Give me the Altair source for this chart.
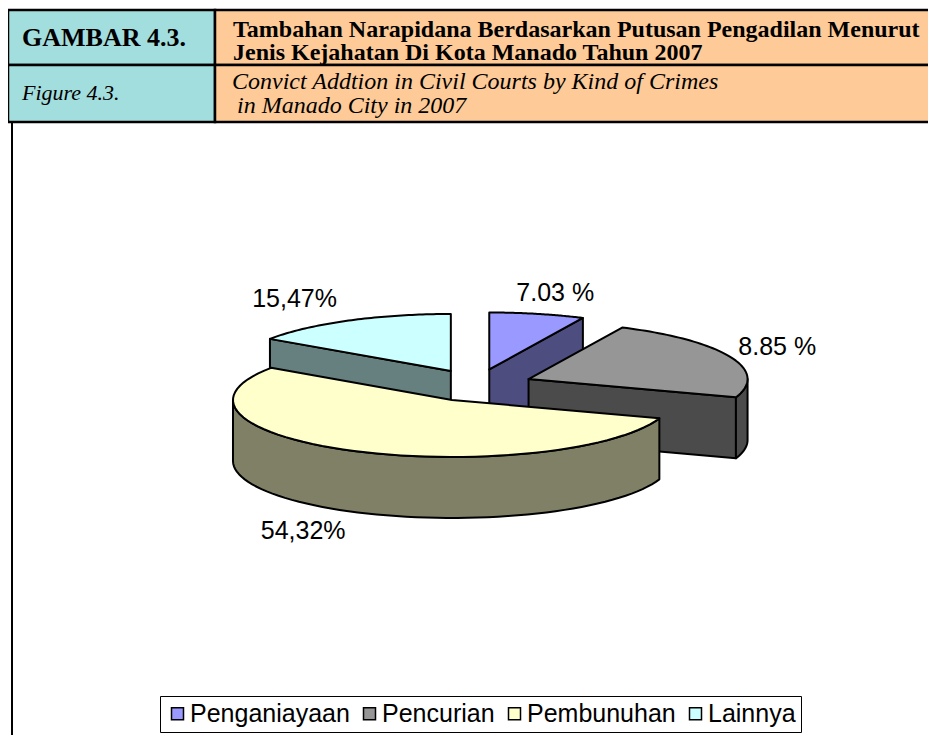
import math
import altair as alt
import pandas as pd

# ---------------- data ----------------
CATEGORIES = ["Penganiayaan", "Pencurian", "Pembunuhan", "Lainnya"]
# share of the circle each slice covers
SLICE_SHARE = [7.03, 23.18, 54.32, 15.47]
# data labels exactly as printed on the chart
LABELS = ["7.03 %", "8.85 %", "54,32%", "15,47%"]

TITLE_ID = "GAMBAR 4.3."
TITLE_ID_EN = "Figure 4.3."
TITLE_LINES = ["Tambahan Narapidana Berdasarkan Putusan Pengadilan Menurut",
               "Jenis Kejahatan Di Kota Manado Tahun 2007"]
TITLE_LINES_EN = ["Convict Addtion in Civil Courts by Kind of Crimes",
                  "in Manado City in 2007"]

# ---------------- style / layout ----------------
TOP_COLORS = ["#9999ff", "#969696", "#ffffcc", "#ccffff"]
SIDE_COLORS = ["#4d4d80", "#4b4b4b", "#808066", "#668080"]
CYAN = "#a3dede"
PEACH = "#fdca98"

W, H = 920, 727
CX, CY = 469, 377.4    # pie centre (view px)
RX, RY = 219, 57       # ellipse radii of the top face
DEPTH = 61             # thickness of the pie
EXPLODE_X, EXPLODE_Y = 56, 16.3
LABEL_NUDGE = [(18, -21), (47, -10), (-51, 80), (-54, -22)]


def rim(cx, cy, a, dy=0.0):
    r = math.radians(a)
    return [cx + RX * math.sin(r), cy - RY * math.cos(r) + dy]


def arc(cx, cy, a0, a1, dy=0.0, n=60):
    return [rim(cx, cy, a0 + (a1 - a0) * j / n, dy) for j in range(n + 1)]


total = sum(SLICE_SHARE)
slices = []
start = 0.0
for i, (cat, v) in enumerate(zip(CATEGORIES, SLICE_SHARE)):
    a0 = start / total * 360.0
    a1 = (start + v) / total * 360.0
    start += v
    m = (a0 + a1) / 2.0
    cx = CX + EXPLODE_X * math.sin(math.radians(m))
    cy = CY - EXPLODE_Y * math.cos(math.radians(m))
    slices.append(dict(i=i, cat=cat, a0=a0, a1=a1, m=m, cx=cx, cy=cy))

order = sorted(slices, key=lambda s: s["cy"])


def feature(ring, props):
    ring = ring + [ring[0]]
    return {"type": "Feature", "properties": props,
            "geometry": {"type": "Polygon", "coordinates": [ring]}}


side_features = []
top_features = []
for s in order:
    cx, cy, a0, a1, i = s["cx"], s["cy"], s["a0"], s["a1"], s["i"]
    apex = [cx, cy]
    apex_b = [cx, cy + DEPTH]
    props = {"category": s["cat"], "fill": SIDE_COLORS[i]}
    if math.sin(math.radians(a0)) < -1e-6:
        side_features.append(feature([apex, rim(cx, cy, a0), rim(cx, cy, a0, DEPTH), apex_b], props))
    if math.sin(math.radians(a1)) > 1e-6:
        side_features.append(feature([apex, rim(cx, cy, a1), rim(cx, cy, a1, DEPTH), apex_b], props))
    lo, hi = max(a0, 90.0), min(a1, 270.0)
    if hi > lo:
        ring = arc(cx, cy, lo, hi) + arc(cx, cy, hi, lo, DEPTH)
        side_features.append(feature(ring, props))
    top_features.append(feature([apex] + arc(cx, cy, a0, a1), {"category": s["cat"]}))

label_rows = []
for s in slices:
    p = rim(s["cx"], s["cy"], s["m"])
    dx, dy = LABEL_NUDGE[s["i"]]
    label_rows.append({"lon": p[0] + dx, "lat": p[1] + dy, "label": LABELS[s["i"]]})
labels_df = pd.DataFrame(label_rows)

sides = alt.Chart(alt.Data(values=side_features)).mark_geoshape(
    stroke="black", strokeWidth=2, strokeJoin="round"
).encode(
    fill=alt.Fill("properties.fill:N", scale=None)
).project(type="identity", scale=1, translate=[0, 0])

tops = alt.Chart(alt.Data(values=top_features)).mark_geoshape(
    stroke="black", strokeWidth=2, strokeJoin="round"
).encode(
    fill=alt.Fill(
        "properties.category:N",
        scale=alt.Scale(domain=CATEGORIES, range=TOP_COLORS),
        legend=alt.Legend(
            title=None, orient="none", legendX=152, legendY=688,
            direction="horizontal", columns=4, symbolType="square",
            symbolSize=144, symbolStrokeColor="black", symbolStrokeWidth=1.5,
            labelFont="Liberation Sans", labelFontSize=25, labelColor="black",
            labelLimit=0, padding=5, strokeColor="black", fillColor="white",
            columnPadding=7, labelOffset=0, symbolOpacity=1,
        ),
    )
).project(type="identity", scale=1, translate=[0, 0])

labels = alt.Chart(labels_df).mark_text(
    font="Liberation Sans", fontSize=25, color="black", align="center", baseline="middle"
).encode(
    longitude="lon:Q", latitude="lat:Q", text="label:N"
).project(type="identity", scale=1, translate=[0, 0])

# ---------------- header table ----------------
dummy = pd.DataFrame({"k": [0]})


def cell(x1, x2, y1, y2, color):
    return alt.Chart(dummy).mark_rect(fill=color, stroke="black", strokeWidth=2.5).encode(
        x=alt.value(x1), x2=alt.value(x2), y=alt.value(y1), y2=alt.value(y2))


def htext(txt, x, y, bold=False, italic=False, size=24):
    return alt.Chart(dummy).mark_text(
        font="Liberation Serif", fontSize=size,
        fontWeight="bold" if bold else "normal",
        fontStyle="italic" if italic else "normal",
        align="left", baseline="middle", color="black"
    ).encode(x=alt.value(x), y=alt.value(y), text=alt.value(txt))


header = [
    cell(0, 207, 2, 57, CYAN), cell(207, 930, 2, 57, PEACH),
    cell(0, 207, 57, 114, CYAN), cell(207, 930, 57, 114, PEACH),
    htext(TITLE_ID, 14, 30, bold=True, size=26),
    htext(TITLE_LINES[0], 225, 21.5, bold=True),
    htext(TITLE_LINES[1], 225, 44.5, bold=True),
    htext(TITLE_ID_EN, 14, 85, italic=True, size=22),
    htext(TITLE_LINES_EN[0], 224, 74, italic=True),
    htext(TITLE_LINES_EN[1], 229, 98, italic=True),
]

border = alt.Chart(dummy).mark_rule(color="black", strokeWidth=2).encode(
    x=alt.value(4), y=alt.value(114), y2=alt.value(H))

chart = alt.layer(*header, border, sides, tops, labels).properties(
    width=W, height=H,
    autosize=alt.AutoSizeParams(type="none"),
    padding=0,
).configure_view(stroke=None)

chart.save("out.html", embed_options={"renderer": "svg", "actions": False})
